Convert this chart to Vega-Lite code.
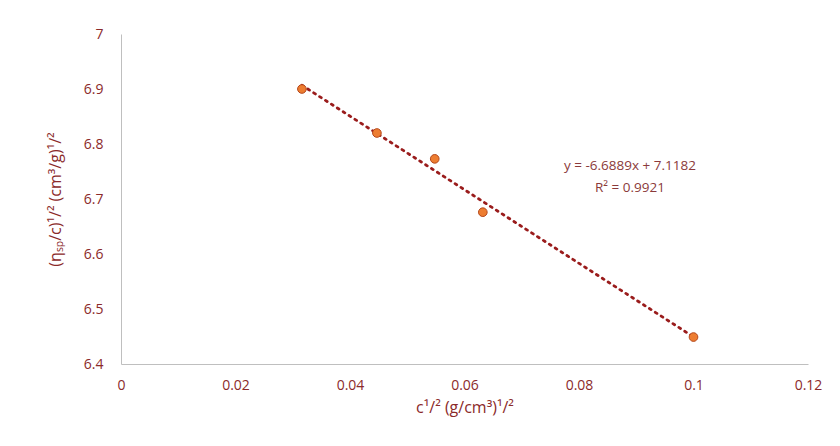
{
  "$schema": "https://vega.github.io/schema/vega-lite/v6.json",
  "width": 687,
  "height": 330,
  "autosize": {"type": "none"},
  "padding": {"left": 121, "top": 34, "right": 32, "bottom": 82},
  "background": "white",
  "config": {
    "view": {"stroke": null},
    "font": "Open Sans",
    "axis": {
      "grid": false,
      "ticks": false,
      "domainColor": "#BFBFBF",
      "domainWidth": 1,
      "labelColor": "#8B2A2A",
      "labelFontSize": 14,
      "labelFont": "Open Sans",
      "titleColor": "#8B2A2A",
      "titleFont": "Open Sans",
      "titleFontWeight": "normal",
      "titleFontSize": 16
    }
  },
  "datasets": {
    "pts": [
      {"x": 0.0316, "y": 6.90},
      {"x": 0.0447, "y": 6.82},
      {"x": 0.0548, "y": 6.773},
      {"x": 0.0632, "y": 6.676},
      {"x": 0.1, "y": 6.449}
    ],
    "trend": [
      {"x": 0.0316, "y": 6.9068},
      {"x": 0.1, "y": 6.4493}
    ],
    "labels": [
      {"x": 0.0889, "y": 6.76, "t": "y = -6.6889x + 7.1182"},
      {"x": 0.0889, "y": 6.72, "t": "R² = 0.9921"}
    ]
  },
  "layer": [
    {
      "data": {"name": "trend"},
      "mark": {"type": "line", "color": "#9A1C1C", "strokeWidth": 2.8, "strokeDash": [2, 5], "strokeCap": "round"},
      "encoding": {
        "x": {
          "field": "x", "type": "quantitative",
          "scale": {"domain": [0, 0.12], "nice": false},
          "axis": {"values": [0, 0.02, 0.04, 0.06, 0.08, 0.1, 0.12], "format": "~g", "labelPadding": 14, "title": "c¹/² (g/cm³)¹/²", "titlePadding": 7, "labelFlush": false}
        },
        "y": {
          "field": "y", "type": "quantitative",
          "scale": {"domain": [6.4, 7], "nice": false, "zero": false},
          "axis": {"values": [6.4, 6.5, 6.6, 6.7, 6.8, 6.9, 7], "format": "~g", "labelPadding": 18, "title": "(ηₛₚ/c)¹/² (cm³/g)¹/²", "titlePadding": 20, "labelFlush": false}
        }
      }
    },
    {
      "data": {"name": "pts"},
      "mark": {"type": "point", "filled": true, "fill": "#ED7D31", "stroke": "#B5471A", "strokeWidth": 1, "size": 75, "opacity": 1},
      "encoding": {
        "x": {"field": "x", "type": "quantitative"},
        "y": {"field": "y", "type": "quantitative"}
      }
    },
    {
      "data": {"name": "labels"},
      "mark": {"type": "text", "color": "#8B3A3A", "fontSize": 13.5, "font": "Open Sans", "align": "center", "baseline": "middle"},
      "encoding": {
        "x": {"field": "x", "type": "quantitative"},
        "y": {"field": "y", "type": "quantitative"},
        "text": {"field": "t"}
      }
    }
  ]
}
